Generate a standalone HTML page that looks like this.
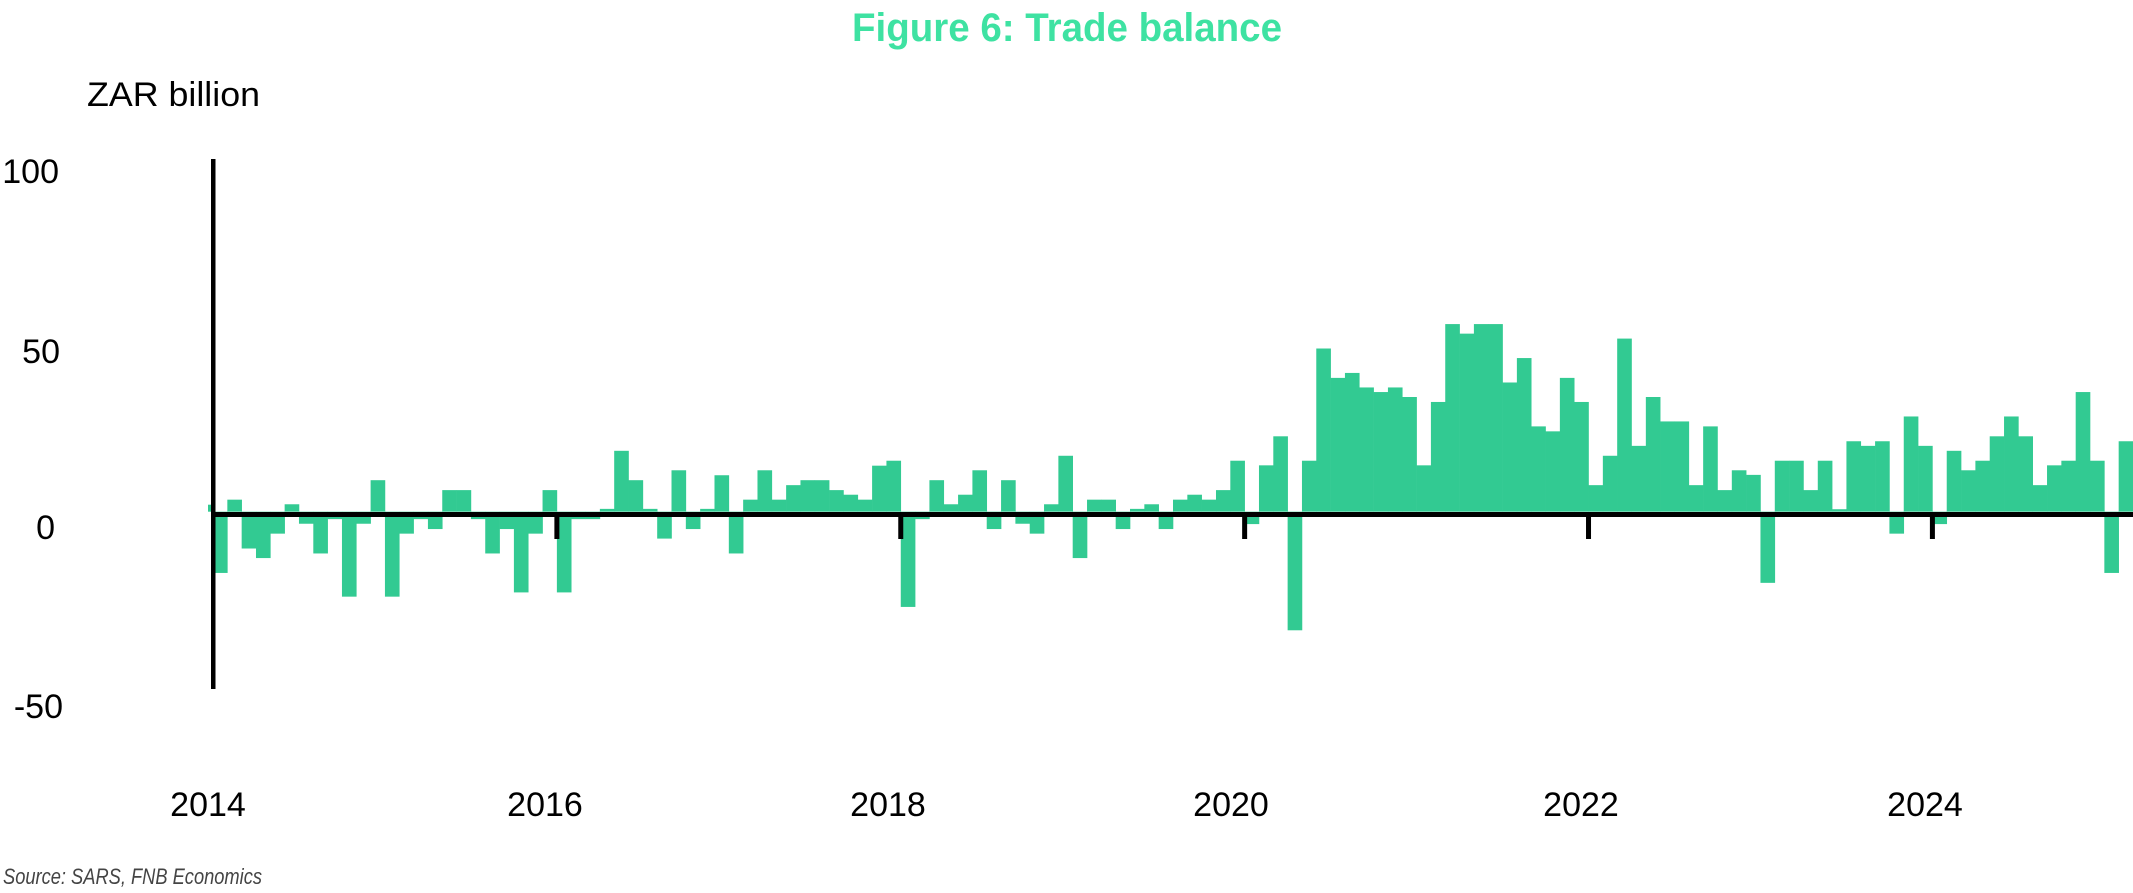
<!DOCTYPE html>
<html><head><meta charset="utf-8">
<style>
html,body{margin:0;padding:0;background:#fff;width:2133px;height:893px;overflow:hidden}
svg{display:block}
</style></head>
<body>
<svg id="c" xmlns="http://www.w3.org/2000/svg" width="2133" height="893" viewBox="0 0 2133 893">
<rect width="2133" height="893" fill="#fff"/>
<text x="852" y="41" textLength="430" lengthAdjust="spacingAndGlyphs" font-family="'Liberation Sans Narrow','Liberation Sans',sans-serif" font-weight="bold" font-size="40" fill="#3ee2a2">Figure 6: Trade balance</text>
<text x="87" y="106" textLength="173" lengthAdjust="spacingAndGlyphs" font-family="'Liberation Sans',sans-serif" font-size="34" fill="#000">ZAR billion</text>
<g font-family="'Liberation Sans',sans-serif" font-size="34" fill="#000">
<text x="59" y="183" text-anchor="end">100</text>
<text x="60" y="363" text-anchor="end">50</text>
<text x="55" y="539" text-anchor="end">0</text>
<text x="63" y="718" text-anchor="end">-50</text>
<text x="208" y="816" text-anchor="middle">2014</text>
<text x="545" y="816" text-anchor="middle">2016</text>
<text x="888" y="816" text-anchor="middle">2018</text>
<text x="1231" y="816" text-anchor="middle">2020</text>
<text x="1581" y="816" text-anchor="middle">2022</text>
<text x="1925" y="816" text-anchor="middle">2024</text>
</g>
<text x="3" y="884" textLength="259" lengthAdjust="spacingAndGlyphs" font-family="'Liberation Sans Narrow','Liberation Sans',sans-serif" font-style="italic" font-size="22" fill="#444">Source: SARS, FNB Economics</text>
<g id="bars" fill="#32ca92"></g>
<rect x="211" y="159" width="4.5" height="530" fill="#000"/>
<rect x="211" y="512" width="1922" height="5" fill="#000"/>
<g id="ticks" fill="#000"></g>
</svg>
<script>
var v=[-17.3,3.4,-10.4,-13.1,-6.2,2.1,-3.4,-11.8,-2.1,-24,-3.4,8.9,
-24,-6.2,-2.1,-4.9,6.1,6.1,-2.1,-11.8,-4.9,-22.8,-6.2,6.1,
-22.8,-2.1,-2.1,0.8,17.2,8.9,0.8,-7.6,11.7,-4.9,0.8,10.3,
-11.8,3.4,11.7,3.4,7.5,8.9,8.9,6.1,4.8,3.4,13,14.4,
-26.9,-2.1,8.9,2.1,4.8,11.7,-4.9,8.9,-3.4,-6.2,2.1,15.8,
-13.1,3.4,3.4,-4.9,0.8,2.1,-4.9,3.4,4.8,3.4,6.1,14.4,
-3.5,13.1,21.3,-33.5,14.4,46.1,37.8,39.2,35.1,33.8,35.1,32.4,
13.1,31,53,50.3,53,53,36.5,43.4,24.1,22.7,37.8,31,
7.5,15.8,48.9,18.6,32.4,25.5,25.5,7.5,24.1,6.1,11.7,10.4,
-20.1,14.4,14.4,6.1,14.4,0.7,19.9,18.6,19.9,-6.2,26.9,18.6,
-3.5,17.2,11.7,14.4,21.3,26.9,21.3,7.5,13.1,14.4,33.8,14.4,
-17.3,19.9];
var ns="http://www.w3.org/2000/svg",g=document.getElementById("bars"),w=1920/134,z=511.7,s=3.54;
function r(x,y,wd,h,p){var e=document.createElementNS(ns,"rect");e.setAttribute("x",x);e.setAttribute("y",y);e.setAttribute("width",wd);e.setAttribute("height",h);p.appendChild(e);}
r(208,z-7,5,7,g);
for(var i=0;i<v.length;i++){var x=213+i*w,y=z-v[i]*s;r(x.toFixed(2),Math.min(y,z).toFixed(2),(w+0.3).toFixed(2),Math.abs(z-y).toFixed(2),g);}
var t=document.getElementById("ticks");
for(var k=1;k<=5;k++){r((213+24*k*w-2.5).toFixed(2),512,5,27,t);}
</script>
</body></html>
